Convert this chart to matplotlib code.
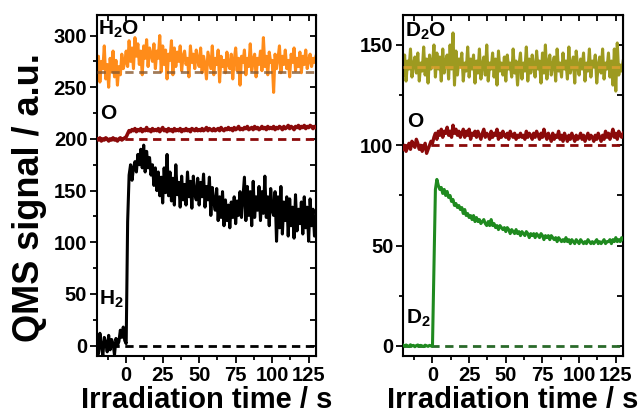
import numpy as np
import matplotlib
matplotlib.use("Agg")
import matplotlib.pyplot as plt
from matplotlib.ticker import MultipleLocator

plt.rcParams['font.family'] = ['Liberation Sans', 'DejaVu Sans']
plt.rcParams['font.weight'] = 'bold'
plt.rcParams['mathtext.fontset'] = 'custom'
plt.rcParams['mathtext.rm'] = 'Liberation Sans'
plt.rcParams['mathtext.bf'] = 'Liberation Sans:bold'

# час, с (крок 1 с)
t = np.arange(-20, 131)

# ліва панель: H2O, O, H2
h2o = [262, 280, 255, 275, 268, 290, 258, 272, 250, 278,
       265, 285, 260, 276, 252, 270, 262, 282, 268, 274,
       285, 270, 295, 275, 288, 268, 298, 280, 292, 272,
       285, 262, 290, 278, 296, 270, 288, 282, 275, 292,
       268, 285, 278, 300, 265, 290, 272, 286, 258, 282,
       276, 295, 262, 288, 270, 284, 275, 290, 266, 280,
       285, 272, 278, 260, 290, 274, 282, 268, 286, 276,
       270, 288, 264, 280, 272, 258, 284, 276, 268, 290,
       262, 278, 272, 286, 255, 280, 270, 276, 264, 284,
       272, 268, 282, 258, 276, 288, 266, 278, 252, 280,
       274, 286, 262, 278, 270, 292, 266, 276, 282, 260,
       278, 272, 285, 266, 298, 270, 280, 262, 284, 274,
       276, 245, 282, 268, 278, 290, 264, 280, 272, 286,
       268, 276, 260, 282, 274, 288, 266, 278, 270, 284,
       264, 280, 272, 286, 268, 276, 282, 270, 278, 274,
       280]

o_left = [200, 199, 201, 198, 200, 199, 201, 200, 198, 200,
          199, 201, 199, 200, 198, 200, 201, 199, 200, 201,
          202, 205, 208, 207, 209, 208, 210, 207, 209, 208,
          210, 207, 209, 208, 211, 208, 209, 207, 210, 208,
          209, 208, 210, 207, 209, 211, 208, 209, 207, 210,
          208, 209, 207, 210, 208, 209, 208, 210, 207, 209,
          208, 210, 208, 209, 207, 210, 209, 208, 210, 208,
          209, 208, 210, 208, 209, 211, 208, 210, 209, 208,
          210, 208, 209, 210, 208, 211, 209, 208, 210, 209,
          211, 209, 210, 208, 211, 209, 210, 212, 209, 210,
          209, 211, 210, 212, 209, 210, 211, 209, 212, 210,
          211, 209, 210, 212, 210, 211, 209, 212, 210, 211,
          210, 212, 209, 211, 210, 212, 211, 209, 212, 210,
          211, 213, 210, 212, 211, 209, 212, 211, 213, 210,
          212, 211, 213, 210, 212, 211, 213, 212, 210, 212,
          211]

h2 = [5, -8, 12, 0, -10, 8, 3, -6, 10, -4,
      6, 2, -9, 7, 0, 4, 15, 8, 18, 5,
      2, 120,
      165, 175, 160, 172, 178, 168, 185, 175, 190,
      172, 194, 168, 188, 172, 182, 165, 175, 155, 172,
      150, 168, 145, 163, 138, 172, 148, 185, 145, 168,
      140, 162, 136, 175, 146, 158, 134, 164, 141, 156,
      136, 168, 144, 159, 133, 164, 147, 141, 162, 136,
      158, 144, 166, 134, 154, 141, 163, 126, 153, 139,
      131, 152, 121, 144, 124, 149, 116, 141, 121, 136,
      114, 139, 124, 144, 118, 140, 126, 149, 124, 144,
      163, 121, 154, 126, 149, 116, 159, 124, 144, 131,
      154, 121, 149, 128, 164, 124, 144, 116, 152, 131,
      126, 149, 101, 144, 114, 154, 108, 139, 121, 144,
      106, 142, 116, 134, 104, 146, 111, 132, 118, 139,
      108, 144, 114, 134, 101, 142, 116, 132, 106, 118]

# права панель: D2O, O, D2
d2o = [135, 145, 132, 142, 138, 148, 134, 140, 144, 136,
       146, 132, 141, 137, 149, 135, 143, 131, 145, 138,
       140, 150, 134, 146, 138, 144, 132, 148, 136, 142,
       145, 133, 150, 138, 156, 130, 147, 135, 143, 139,
       146, 132, 141, 137, 149, 134, 143, 138, 145, 131,
       142, 136, 148, 133, 140, 144, 135, 150, 132, 141,
       138, 146, 134, 143, 130, 147, 137, 141, 135, 144,
       132, 145, 138, 141, 134, 148, 136, 142, 130, 140,
       146, 133, 141, 137, 149, 132, 143, 136, 145, 139,
       134, 147, 138, 142, 131, 146, 136, 150, 133, 141,
       145, 135, 140, 144, 132, 148, 137, 141, 134, 146,
       138, 142, 133, 149, 136, 140, 144, 131, 147, 139,
       135, 143, 138, 146, 132, 141, 137, 148, 134, 142,
       139, 145, 131, 140, 144, 136, 148, 133, 141, 138,
       146, 134, 142, 130, 148, 127, 151, 135, 140, 137,
       142]

o_right = [98, 100, 97, 99, 101, 98, 102, 100, 99, 103,
           101, 98, 100, 97, 99, 101, 96, 98, 100, 102,
           101, 104, 106, 103, 107, 105, 108, 104, 107, 106,
           109, 105, 107, 104, 110, 106, 108, 105, 107, 104,
           106, 108, 104, 107, 105, 108, 103, 106, 105, 107,
           104, 107, 105, 103, 106, 108, 104, 106, 105, 103,
           107, 104, 106, 105, 108, 103, 106, 104, 107, 105,
           104, 106, 103, 107, 105, 104, 106, 103, 105, 104,
           106, 104, 105, 103, 107, 104, 106, 105, 103, 106,
           104, 107, 105, 103, 106, 104, 108, 105, 103, 106,
           104, 102, 106, 103, 105, 104, 107, 103, 105, 102,
           106, 104, 102, 105, 103, 106, 104, 102, 105, 103,
           104, 106, 103, 105, 102, 104, 106, 103, 105, 104,
           102, 105, 103, 106, 104, 102, 105, 103, 107, 104,
           106, 103, 105, 108, 104, 106, 103, 107, 105, 104,
           106]

d2 = [0.4, -0.2, 0.5, 0.1, -0.3, 0.6, 0.0, 0.3, -0.4, 0.2,
      0.5, -0.1, 0.3, 0.0, -0.3, 0.4, 0.1, -0.2, 0.3, 0.0,
      0.0, 40, 78, 83, 80, 78, 79, 76, 78, 75,
      77, 74, 75, 72, 73, 70, 71, 69, 70, 68,
      69, 66, 68, 65, 66, 64, 65, 63, 65, 62,
      64, 62, 63, 61, 62, 63, 61, 60, 62, 60,
      63, 60, 61, 59, 60, 58, 60, 59, 58, 59,
      57, 59, 58, 56, 58, 57, 56, 58, 56, 57,
      55, 57, 56, 55, 57, 56, 54, 56, 55, 56,
      54, 56, 55, 54, 56, 55, 53, 55, 54, 55,
      53, 55, 54, 53, 54, 52, 54, 53, 52, 53,
      52, 54, 52, 53, 51, 53, 52, 51, 53, 52,
      51, 53, 52, 51, 52, 51, 53, 52, 51, 52,
      51, 52, 53, 51, 52, 51, 52, 53, 51, 52,
      52, 53, 51, 53, 52, 54, 52, 53, 52, 54,
      53]

# базові лінії (штрихові)
base_left = [265, 200, 0]
base_right = [139, 100, 0]

c_h2o = '#ff8c1a'
c_o = '#8b0a0a'
c_h2 = 'black'
c_d2o = '#9d9a20'
c_d2 = '#1f8a1f'

fig = plt.figure(figsize=(6.44, 4.13), dpi=100)
ax1 = fig.add_axes([0.1506, 0.138, 0.340, 0.826])
ax2 = fig.add_axes([0.626, 0.138, 0.3416, 0.826])

dash = (0, (3, 2))

# ліва
ax1.plot(t, h2o, color=c_h2o, lw=2.2, zorder=2)
ax1.plot(t, o_left, color=c_o, lw=2.6, zorder=3)
ax1.plot(t, h2, color=c_h2, lw=2.2, zorder=3)
ax1.axhline(base_left[0], color='#8a5a30', ls=dash, lw=2, zorder=4, alpha=0.8)
ax1.axhline(base_left[1], color=c_o, ls=dash, lw=2, zorder=2)
ax1.axhline(base_left[2], color='black', ls=dash, lw=2, zorder=2)
ax1.set_xlim(-20, 130)
ax1.set_ylim(-10, 320)
ax1.yaxis.set_major_locator(MultipleLocator(50))
ax1.yaxis.set_minor_locator(MultipleLocator(25))
ax1.text(-19, 316, r'$\mathbf{H_2O}$', fontsize=15, va='top', ha='left')
ax1.text(-18, 225, 'O', fontsize=15, va='center', ha='left')
ax1.text(-18.5, 45, r'$\mathbf{H_2}$', fontsize=15, va='center', ha='left')
ax1.set_ylabel('QMS signal / a.u.', fontsize=26, fontweight='bold')
ax1.yaxis.set_label_coords(-0.23, 0.465)

# права
ax2.plot(t, d2o, color=c_d2o, lw=2.2, zorder=2)
ax2.plot(t, o_right, color=c_o, lw=2.4, zorder=3)
ax2.plot(t, d2, color=c_d2, lw=2.2, zorder=3)
ax2.axhline(base_right[0], color='#e0a030', ls=dash, lw=2, zorder=4, alpha=0.8)
ax2.axhline(base_right[1], color=c_o, ls=dash, lw=2, zorder=2)
ax2.axhline(base_right[2], color='#2a6a2a', ls=dash, lw=2, zorder=2)
ax2.set_xlim(-20, 130)
ax2.set_ylim(-5, 165)
ax2.yaxis.set_major_locator(MultipleLocator(50))
ax2.yaxis.set_minor_locator(MultipleLocator(25))
ax2.text(-19, 162, r'$\mathbf{D_2O}$', fontsize=15, va='top', ha='left')
ax2.text(-17, 112, 'O', fontsize=15, va='center', ha='left')
ax2.text(-18, 14, r'$\mathbf{D_2}$', fontsize=15, va='center', ha='left')

for ax in (ax1, ax2):
    ax.xaxis.set_major_locator(MultipleLocator(25))
    ax.xaxis.set_minor_locator(MultipleLocator(12.5))
    ax.set_xticks([0, 25, 50, 75, 100, 125])
    ax.set_xlabel('Irradiation time / s', fontsize=21, fontweight='bold', labelpad=1)
    for s in ax.spines.values():
        s.set_linewidth(1.5)
    ax.tick_params(which='both', labelsize=14.5, width=1.3)
    ax.tick_params(which='major', length=5)
    ax.tick_params(which='minor', length=3)
    ax.tick_params(axis='x', which='both', direction='out', top=False, pad=2)
    ax.tick_params(axis='y', which='both', direction='out', right=False, pad=2)
    tx = ax.secondary_xaxis('top')
    tx.xaxis.set_major_locator(MultipleLocator(12.5))
    tx.tick_params(direction='in', length=4, width=1.3, labeltop=False)
    ty = ax.secondary_yaxis('right')
    ty.yaxis.set_major_locator(MultipleLocator(25))
    ty.tick_params(direction='in', length=4, width=1.3, labelright=False)
    for lab in ax.get_xticklabels() + ax.get_yticklabels():
        lab.set_fontweight('bold')

fig.savefig('out.png', dpi=100)
